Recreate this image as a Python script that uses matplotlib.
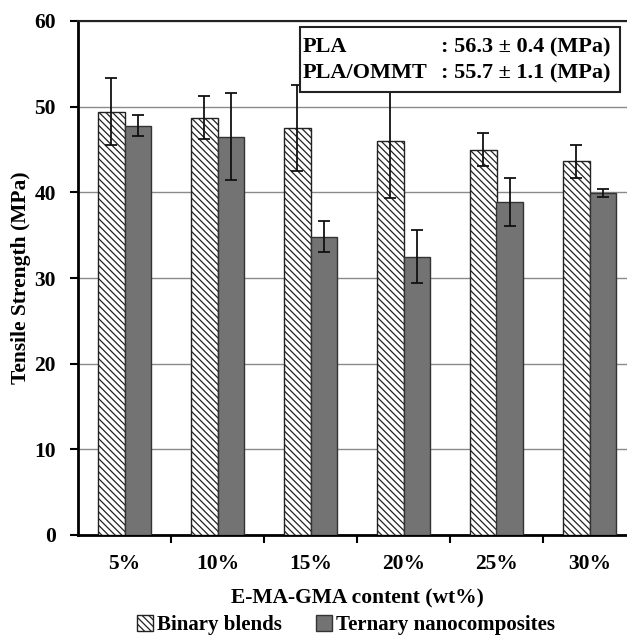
import matplotlib
matplotlib.use("Agg")
import matplotlib.pyplot as plt
import numpy as np
from matplotlib.patches import Patch

categories = ["5%", "10%", "15%", "20%", "25%", "30%"]
binary = [49.4, 48.7, 47.5, 46.0, 45.0, 43.6]
binary_err = [3.9, 2.5, 5.0, 6.7, 1.9, 1.95]
ternary = [47.8, 46.5, 34.8, 32.5, 38.9, 39.9]
ternary_err = [1.2, 5.1, 1.8, 3.1, 2.8, 0.5]
series_names = ["Binary blends", "Ternary nanocomposites"]
yticks = [0, 10, 20, 30, 40, 50, 60]

plt.rcParams['font.family'] = ['Liberation Serif', 'DejaVu Serif']
plt.rcParams['font.weight'] = 'bold'
plt.rcParams['hatch.linewidth'] = 0.9

fig = plt.figure(figsize=(6.27, 6.40), dpi=100)
W, H = 627, 640
left, right, top, bottom = 78, 636, 21, 535
ax = fig.add_axes([left / W, 1 - bottom / H, (right - left) / W, (bottom - top) / H])

x = np.arange(len(categories))
bw = 0.29
ax.bar(x - bw / 2, binary, bw, color='white', edgecolor='#222222', hatch='\\\\\\\\\\',
       linewidth=1.0, zorder=3)
ax.bar(x + bw / 2, ternary, bw, color='#737373', edgecolor='#333333', linewidth=1.0, zorder=3)
ax.errorbar(x - bw / 2, binary, yerr=binary_err, fmt='none', ecolor='#111111',
            elinewidth=1.3, capsize=4, capthick=1.3, zorder=4)
ax.errorbar(x + bw / 2, ternary, yerr=ternary_err, fmt='none', ecolor='#111111',
            elinewidth=1.3, capsize=4, capthick=1.3, zorder=4)

ax.set_xlim(-0.5, 5.5)
ax.set_ylim(0, 60)
ax.set_yticks(yticks)
ax.yaxis.grid(True, color='#8a8a8a', linewidth=1.0, zorder=0)
ax.set_axisbelow(True)
ax.set_xticks(x)
ax.set_xticklabels(categories, fontsize=15.5, fontweight='bold')
ax.set_xticks(np.arange(0.5, 5.5, 1.0), minor=True)
ax.tick_params(axis='x', which='major', length=0, pad=14)
ax.tick_params(axis='x', which='minor', length=6, width=1.5, direction='out')
ax.tick_params(axis='y', length=6, width=1.5, direction='out', labelsize=15.5, pad=10)
for lab in ax.get_yticklabels():
    lab.set_fontweight('bold')

for s in ['left', 'bottom']:
    ax.spines[s].set_linewidth(2.0)
    ax.spines[s].set_color('black')
ax.spines['top'].set_linewidth(1.5)
ax.spines['top'].set_color('#222222')
ax.spines['right'].set_visible(False)

ax.set_ylabel("Tensile Strength (MPa)", fontsize=15.5, fontweight='bold')
ax.yaxis.set_label_coords((31 - left) / (right - left), 0.5)
ax.set_xlabel("E-MA-GMA content (wt%)", fontsize=15.5, fontweight='bold', labelpad=10)

# Info box
bx0, by0, bx1, by1 = 300, 27, 620, 92
fig.patches.append(plt.Rectangle((bx0 / W, 1 - by1 / H), (bx1 - bx0) / W, (by1 - by0) / H,
                                 transform=fig.transFigure, fill=True, facecolor='white',
                                 edgecolor='#222222', linewidth=1.5, zorder=10))
fig.text(303 / W, 1 - 47 / H, "PLA", fontsize=16, fontweight='bold', va='center', zorder=11)
fig.text(303 / W, 1 - 73 / H, "PLA/OMMT", fontsize=16, fontweight='bold', va='center', zorder=11)
fig.text(441 / W, 1 - 47 / H, ": 56.3 ± 0.4 (MPa)", fontsize=16, fontweight='bold', va='center', zorder=11)
fig.text(441 / W, 1 - 73 / H, ": 55.7 ± 1.1 (MPa)", fontsize=16, fontweight='bold', va='center', zorder=11)

handles = [Patch(facecolor='white', edgecolor='#222222', hatch='\\\\\\\\\\', label=series_names[0]),
           Patch(facecolor='#737373', edgecolor='#333333', label=series_names[1])]
fig.legend(handles=handles, loc='center', bbox_to_anchor=(346 / W, 1 - 625 / H), ncol=2,
           frameon=False, prop={'size': 15, 'weight': 'bold'}, handlelength=0.8,
           handleheight=0.8, handletextpad=0.2, columnspacing=1.6)

fig.savefig("out.png", dpi=100)
